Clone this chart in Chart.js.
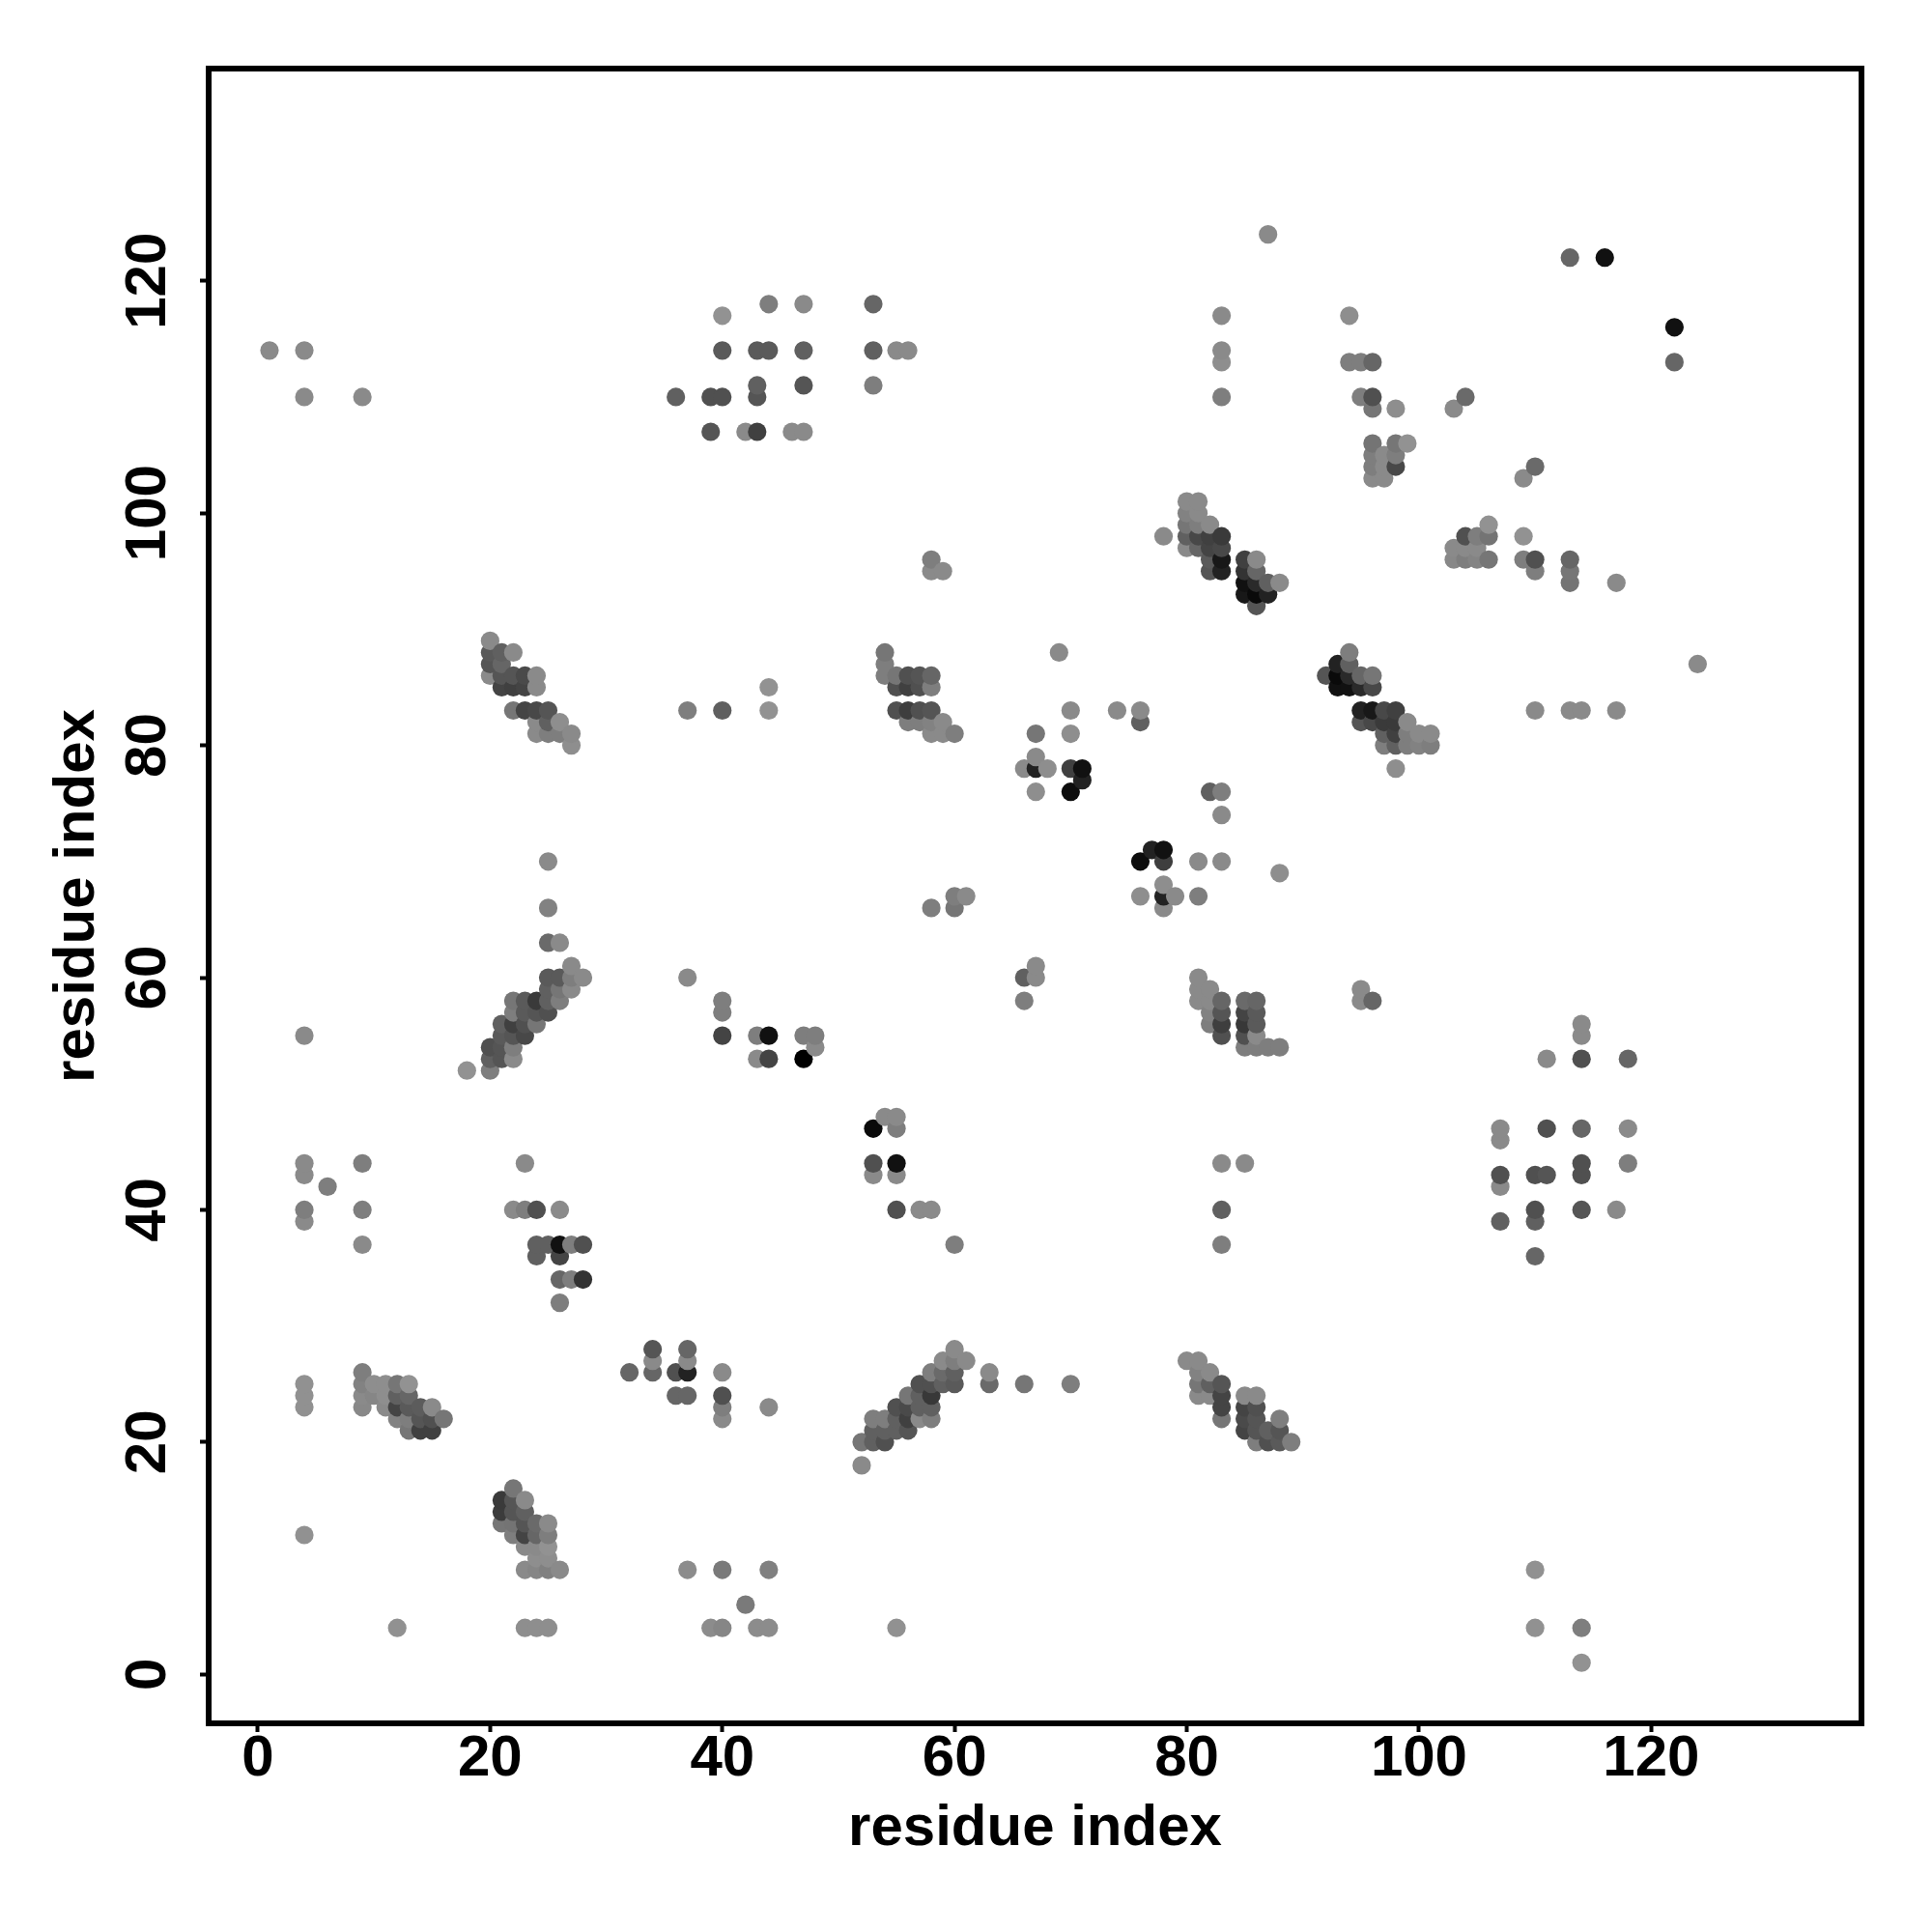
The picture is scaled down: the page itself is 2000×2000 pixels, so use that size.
<!DOCTYPE html>
<html>
<head>
<meta charset="utf-8">
<script src="https://cdn.jsdelivr.net/npm/chart.js@4/dist/chart.umd.min.js"></script>
<style>
  html, body { margin: 0; padding: 0; background: #fff; }
  canvas { display: block; }
</style>
</head>
<body>
<canvas id="contact-map" width="2000" height="2000"></canvas>
<script>
const tickValues = [0, 20, 40, 60, 80, 100, 120];
const xTitle = 'residue index';
const yTitle = 'residue index';

// contacts, one line per y value; rowGrey is the 0-255 grey of each dot
const rowY = [1, 4, 6, 9, 10, 11, 12, 13, 14, 15, 16, 18, 20, 21, 22, 23, 24, 25, 26, 27, 28, 32, 34, 36, 37, 39, 40, 42, 43, 44, 46, 47, 48, 52, 53, 54, 55, 56, 57, 58, 59, 60, 61, 63, 66, 67, 68, 69, 70, 71, 74, 76, 77, 78, 79, 80, 81, 82, 83, 85, 86, 87, 88, 89, 92, 93, 94, 95, 96, 97, 98, 99, 100, 101, 103, 104, 105, 106, 107, 109, 110, 111, 113, 114, 116, 117, 118, 122, 124];
const rowX = [
  [114],
  [12, 23, 24, 25, 39, 40, 43, 44, 55, 110, 114],
  [42],
  [23, 24, 25, 26, 37, 40, 44, 110],
  [24, 25],
  [23, 24, 25],
  [4, 22, 23, 24, 25],
  [21, 22, 23, 24, 25],
  [21, 22, 23],
  [21, 22, 23],
  [22],
  [52],
  [52, 53, 54, 86, 87, 88, 89],
  [13, 14, 15, 53, 54, 55, 56, 85, 86, 87, 88],
  [12, 13, 14, 15, 16, 40, 53, 54, 55, 56, 57, 58, 83, 85, 86, 88],
  [4, 9, 11, 12, 13, 14, 15, 40, 44, 55, 56, 57, 58, 83, 85, 86],
  [4, 9, 10, 11, 12, 13, 36, 37, 40, 56, 57, 58, 81, 82, 83, 85, 86],
  [4, 9, 10, 11, 12, 13, 57, 58, 59, 60, 63, 66, 70, 81, 82, 83],
  [9, 32, 34, 36, 37, 40, 58, 59, 60, 63, 81, 82],
  [34, 37, 59, 60, 61, 80, 81],
  [34, 37, 60],
  [26],
  [26, 27, 28],
  [24, 26, 110],
  [9, 24, 25, 26, 27, 28, 60, 83],
  [4, 107, 110],
  [4, 9, 22, 23, 24, 26, 55, 57, 58, 83, 110, 114, 117],
  [6, 107],
  [4, 53, 55, 107, 110, 111, 114],
  [4, 9, 23, 53, 55, 83, 85, 114, 118],
  [107],
  [53, 55, 107, 111, 114, 118],
  [54, 55],
  [18, 20],
  [20, 21, 22, 43, 44, 47, 111, 114, 118],
  [20, 21, 22, 48, 85, 86, 87, 88],
  [4, 21, 22, 23, 40, 43, 44, 47, 48, 83, 85, 86, 114],
  [21, 22, 23, 24, 82, 83, 85, 86, 114],
  [22, 23, 24, 25, 40, 82, 83, 85, 86],
  [22, 23, 24, 25, 26, 40, 66, 81, 82, 83, 85, 86, 95, 96],
  [25, 26, 27, 81, 82, 95],
  [25, 26, 27, 28, 37, 66, 67, 81],
  [27, 67],
  [25, 26],
  [25, 58, 60, 78],
  [60, 61, 76, 78, 79, 81],
  [78],
  [88],
  [25, 76, 78, 81, 83],
  [77, 78],
  [83],
  [67, 70, 82, 83],
  [71],
  [66, 67, 68, 70, 71, 98],
  [67],
  [27, 97, 98, 99, 100, 101],
  [24, 25, 26, 27, 58, 59, 60, 67, 70, 97, 98, 99, 100, 101],
  [24, 25, 26, 56, 57, 58, 59, 76, 95, 96, 97, 98, 99],
  [22, 23, 24, 25, 37, 40, 44, 55, 56, 57, 58, 70, 74, 76, 95, 96, 97, 98, 110, 113, 114, 117],
  [21, 22, 23, 24, 44, 55, 56, 57, 58, 93, 94, 95, 96],
  [20, 21, 22, 23, 24, 54, 55, 56, 57, 58, 92, 93, 94, 95, 96],
  [20, 21, 54, 93, 94, 124],
  [20, 21, 22, 54, 69, 94],
  [20],
  [86],
  [85, 86, 87],
  [85, 86, 87, 88, 113, 117],
  [58, 59, 82, 83, 85, 86, 110, 113],
  [58, 82, 83, 85, 86, 103, 104, 105, 106, 109, 110, 113],
  [80, 81, 82, 83, 103, 104, 105],
  [78, 80, 81, 82, 83, 104, 105, 106, 109],
  [80, 81, 82, 106],
  [80, 81],
  [80, 81],
  [96, 97, 109],
  [96, 97, 98, 110],
  [96, 97, 98],
  [96, 98, 99],
  [39, 42, 43, 46, 47],
  [96, 98, 103],
  [4, 9, 36, 39, 40, 43, 83, 95, 96, 104],
  [43, 47, 53],
  [83, 94, 95, 96, 122],
  [1, 4, 40, 43, 44, 47, 53, 55, 56, 83],
  [122],
  [40, 83, 94],
  [44, 47, 53],
  [113, 116],
  [87]
];
const rowGrey = [
  [146],
  [145, 142, 142, 142, 140, 134, 140, 140, 145, 145, 126],
  [122],
  [138, 134, 128, 138, 140, 122, 128, 145],
  [142, 142],
  [138, 138, 146],
  [145, 126, 68, 102, 126],
  [118, 116, 85, 106, 138],
  [60, 85, 96],
  [58, 85, 138],
  [118],
  [138],
  [118, 96, 80, 126, 80, 90, 126],
  [118, 64, 64, 96, 96, 96, 85, 68, 85, 96, 85],
  [130, 126, 85, 80, 118, 138, 126, 126, 96, 64, 138, 126, 118, 74, 85, 126],
  [145, 136, 138, 68, 90, 92, 138, 126, 138, 80, 74, 96, 96, 68, 68, 80],
  [145, 138, 134, 142, 96, 102, 102, 102, 80, 118, 96, 56, 138, 138, 68, 138, 138],
  [145, 130, 142, 142, 118, 146, 80, 80, 96, 90, 106, 118, 126, 118, 96, 85],
  [126, 102, 102, 80, 34, 138, 126, 106, 96, 138, 130, 138],
  [138, 138, 138, 126, 138, 138, 138],
  [85, 102, 138],
  [126],
  [102, 126, 51],
  [96, 68, 102],
  [138, 96, 96, 17, 126, 80, 126, 126],
  [138, 96, 96],
  [126, 126, 138, 126, 80, 138, 80, 138, 138, 96, 80, 85, 138],
  [126, 138],
  [138, 138, 138, 80, 80, 85, 80],
  [138, 126, 138, 80, 17, 138, 138, 80, 126],
  [138],
  [10, 126, 138, 80, 102, 138],
  [138, 138],
  [146, 126],
  [96, 85, 138, 138, 68, 0, 138, 80, 102],
  [80, 85, 126, 138, 126, 126, 126, 126],
  [138, 90, 85, 72, 68, 126, 17, 126, 126, 80, 80, 138, 138],
  [96, 64, 80, 118, 126, 62, 56, 90, 138],
  [126, 90, 85, 80, 126, 130, 85, 68, 90],
  [118, 90, 58, 96, 126, 126, 126, 138, 138, 102, 106, 102, 138, 102],
  [96, 118, 138, 138, 138, 138],
  [90, 90, 126, 138, 138, 96, 138, 138],
  [138, 138],
  [106, 138],
  [130, 126, 118, 138],
  [126, 138, 142, 34, 138, 126],
  [142],
  [142],
  [138, 13, 62, 138, 138],
  [34, 17],
  [138],
  [142, 13, 96, 126],
  [34],
  [138, 34, 142, 64, 17, 142],
  [138],
  [142, 126, 96, 126, 130, 126],
  [138, 126, 126, 138, 138, 138, 126, 118, 142, 96, 64, 126, 138, 138],
  [138, 96, 142, 126, 126, 130, 138, 96, 85, 72, 58, 58, 138],
  [118, 68, 72, 85, 126, 95, 146, 80, 62, 80, 85, 138, 138, 138, 34, 24, 72, 64, 138, 138, 138, 138],
  [68, 64, 68, 138, 146, 80, 64, 80, 126, 17, 17, 42, 72],
  [138, 85, 85, 74, 138, 126, 118, 80, 85, 102, 85, 10, 42, 102, 118],
  [85, 102, 126, 34, 96, 138],
  [90, 96, 138, 118, 138, 126],
  [138],
  [85],
  [24, 10, 34],
  [17, 42, 96, 138, 116, 138],
  [138, 138, 85, 34, 51, 102, 126, 118],
  [126, 90, 24, 64, 138, 136, 126, 132, 118, 126, 80, 102],
  [138, 102, 68, 72, 138, 138, 138],
  [138, 96, 72, 64, 58, 80, 126, 116, 146],
  [118, 126, 138, 146],
  [130, 138],
  [138, 138],
  [138, 138, 138],
  [126, 138, 72, 106],
  [126, 138, 126],
  [116, 118, 146],
  [85, 138, 64, 138, 138],
  [118, 142, 138],
  [138, 138, 96, 80, 80, 85, 126, 126, 80, 106],
  [96, 85, 126],
  [142, 126, 126, 102, 102],
  [138, 138, 90, 90, 90, 96, 96, 138, 138, 138],
  [17],
  [146, 138, 142],
  [126, 138, 102],
  [102, 17],
  [138]
];

// the map is painted column by column, later dots sit on top of earlier ones
const points = rowY
  .flatMap((y, i) => rowX[i].map((x, j) => ({ x, y, grey: rowGrey[i][j] })))
  .sort((a, b) => a.x - b.x || a.y - b.y);

const frame = {
  id: 'frame',
  afterDraw(chart) {
    const { ctx, chartArea: a } = chart;
    ctx.save();
    ctx.strokeStyle = '#000';
    ctx.lineWidth = 6;
    ctx.strokeRect(a.left, a.top, a.right - a.left, a.bottom - a.top);
    ctx.restore();
  }
};

const tickFont = { family: 'Liberation Sans', size: 60, weight: 'bold' };

function setTicks(scale) {
  scale.ticks = tickValues.map(value => ({ value }));
}

new Chart(document.getElementById('contact-map'), {
  type: 'scatter',
  data: {
    datasets: [{
      data: points,
      pointRadius: 9.6,
      pointHoverRadius: 9.6,
      pointBorderWidth: 0,
      pointBackgroundColor: points.map(p => `rgb(${p.grey},${p.grey},${p.grey})`)
    }]
  },
  options: {
    responsive: false,
    animation: false,
    layout: { padding: { top: 71, right: 73, left: 0, bottom: 0 } },
    plugins: { legend: { display: false }, tooltip: { enabled: false } },
    scales: {
      x: {
        type: 'linear',
        min: -4.24,
        max: 138.11,
        afterBuildTicks: setTicks,
        afterFit(scale) { scale.height = 216; },
        border: { display: false },
        grid: { drawOnChartArea: false, tickLength: 9, tickWidth: 4, tickColor: '#000' },
        ticks: { autoSkip: false, color: '#000', font: tickFont, padding: -8, maxRotation: 0, minRotation: 0 },
        title: {
          display: true,
          text: xTitle,
          color: '#000',
          font: tickFont,
          padding: { top: 0, bottom: 70.5 }
        }
      },
      y: {
        type: 'linear',
        min: -4.22,
        max: 138.28,
        afterBuildTicks: setTicks,
        afterFit(scale) { scale.width = 216; },
        border: { display: false },
        grid: { drawOnChartArea: false, tickLength: 9, tickWidth: 4, tickColor: '#000' },
        ticks: { autoSkip: false, color: '#000', font: tickFont, padding: 2, crossAlign: 'center', minRotation: 90, maxRotation: 90 },
        title: {
          display: true,
          text: yTitle,
          color: '#000',
          font: tickFont,
          padding: { top: 44, bottom: 0 }
        }
      }
    }
  },
  plugins: [frame]
});
</script>
</body>
</html>
